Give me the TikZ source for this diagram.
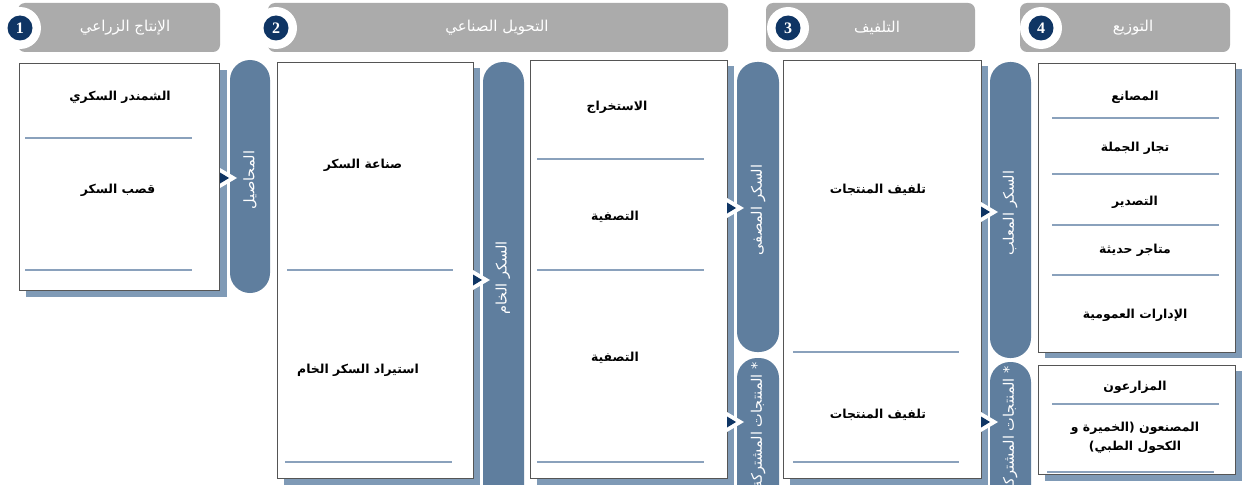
\documentclass[tikz,border=0pt]{standalone}
\usepackage{fontspec}
\setmainfont{Liberation Serif}
\newfontfamily\arfont[Script=Arabic]{DejaVu Sans}
\TeXXeTstate=1
\newcommand\rtl[1]{\beginR #1\endR}
\definecolor{hdrgray}{HTML}{ABABAB}
\definecolor{pillblue}{HTML}{5F7E9E}
\definecolor{shadowblue}{HTML}{7F9AB6}
\definecolor{sepblue}{HTML}{8AA1BC}
\definecolor{navy}{HTML}{0F3564}
\definecolor{boxline}{HTML}{555555}
\tikzset{
  hdr/.style={fill=hdrgray, rounded corners=7pt},
  hdrtext/.style={text=white, font=\arfont\fontsize{15}{17}\selectfont},
  numc/.style={circle, fill=navy, minimum size=25pt, inner sep=0pt, text=white, font=\bfseries\fontsize{16}{16}\selectfont},
  ring/.style={circle, fill=white, minimum size=42pt, inner sep=0pt},
  card/.style={draw=boxline, fill=white, line width=0.8pt, anchor=north west, inner sep=0pt},
  shade/.style={fill=shadowblue},
  sepline/.style={draw=sepblue, line width=2.2pt},
  pill/.style={fill=pillblue, rounded corners=20pt},
  pilltext/.style={text=white, rotate=90, font=\arfont\fontsize{14.5}{16}\selectfont, inner sep=0pt},
  item/.style={font=\arfont\bfseries\fontsize{12.4}{19.5}\selectfont, align=center, inner sep=0pt},
}
\newcommand\tri[2]{%
  \fill[white] (#1,#2-10) -- (#1+17,#2) -- (#1,#2+10) -- cycle;
  \fill[navy] (#1,#2-5.5) -- (#1+9,#2) -- (#1,#2+5.5) -- cycle;}
\begin{document}
\begin{tikzpicture}[x=1pt,y=-1pt]
\useasboundingbox (0,0) rectangle (1246,484);
\clip (0,0) rectangle (1246,484);
\fill[white] (0,0) rectangle (1246,484);
% headers
\fill[hdr] (18,3) rectangle (220,52);
\fill[hdr] (268,3) rectangle (728,52);
\fill[hdr] (766,3) rectangle (975,52);
\fill[hdr] (1020,3) rectangle (1230,52);
\node[ring] (r1) at (20,28) {};
\node[ring] (r2) at (276,28) {};
\node[ring] (r3) at (788,28) {};
\node[ring] (r4) at (1041,28) {};
\node[numc] (n1) at (20,28) {1};
\node[numc] (n2) at (276,28) {2};
\node[numc] (n3) at (788,28) {3};
\node[numc] (n4) at (1041,28) {4};
\node[hdrtext] (h1) at (125,28) {\rtl{الإنتاج الزراعي}};
\node[hdrtext] (h2) at (497,28) {\rtl{التحويل الصناعي}};
\node[hdrtext] (h3) at (877,28) {\rtl{التلفيف}};
\node[hdrtext] (h4) at (1133,28) {\rtl{التوزيع}};
% pills
\fill[pill] (230,60) rectangle (270,293);
\fill[pill] (483,62) rectangle (524,540);
\fill[pill] (737,62) rectangle (779,352);
\fill[pill] (737,358) rectangle (779,560);
\fill[pill] (990,62) rectangle (1031,358);
\fill[pill] (990,362) rectangle (1031,560);
\node[pilltext] (p1) at (250,180) {\rtl{المحاصيل}};
\node[pilltext] (p2) at (503,278) {\rtl{السكر الخام}};
\node[pilltext] (p3) at (758,210) {\rtl{السكر المصفى}};
\node[pilltext, anchor=east] (p4) at (758,362) {\rtl{* المنتجات المشتركة}};
\node[pilltext] (p5) at (1010,213) {\rtl{السكر المعلب}};
\node[pilltext, anchor=east] (p6) at (1010,366) {\rtl{* المنتجات المشتركة}};
% shadows
\fill[shade] (26,70) rectangle (227,297);
\fill[shade] (284,68) rectangle (480,485);
\fill[shade] (537,66) rectangle (734,485);
\fill[shade] (790,66) rectangle (988,485);
\fill[shade] (1045,69) rectangle (1242,358);
\fill[shade] (1045,371) rectangle (1242,481);
% cards
\node[card, minimum width=200pt, minimum height=227pt] (b1) at (19,63) {};
\node[card, minimum width=196pt, minimum height=416pt] (b2) at (277,62) {};
\node[card, minimum width=197pt, minimum height=418pt] (b3) at (530,60) {};
\node[card, minimum width=198pt, minimum height=418pt] (b4) at (783,60) {};
\node[card, minimum width=197pt, minimum height=289pt] (b5) at (1038,63) {};
\node[card, minimum width=197pt, minimum height=109pt] (b6) at (1038,365) {};
% separators
\draw[sepline] (25,138) -- (192,138);
\draw[sepline] (25,270) -- (192,270);
\draw[sepline] (287,270) -- (453,270);
\draw[sepline] (285,462) -- (452,462);
\draw[sepline] (537,159) -- (704,159);
\draw[sepline] (537,270) -- (704,270);
\draw[sepline] (537,462) -- (704,462);
\draw[sepline] (793,352) -- (959,352);
\draw[sepline] (793,462) -- (959,462);
\draw[sepline] (1052,118) -- (1219,118);
\draw[sepline] (1052,174) -- (1219,174);
\draw[sepline] (1052,225) -- (1219,225);
\draw[sepline] (1052,275) -- (1219,275);
\draw[sepline] (1052,404) -- (1219,404);
\draw[sepline] (1047,472) -- (1214,472);
% items
\node[item] (t11) at (120,97) {\rtl{الشمندر السكري}};
\node[item] (t12) at (118,190) {\rtl{قصب السكر}};
\node[item] (t21) at (363,165) {\rtl{صناعة السكر}};
\node[item] (t22) at (358,370) {\rtl{استيراد السكر الخام}};
\node[item] (t31) at (617,107) {\rtl{الاستخراج}};
\node[item] (t32) at (615,217) {\rtl{التصفية}};
\node[item] (t33) at (615,358) {\rtl{التصفية}};
\node[item] (t41) at (878,190) {\rtl{تلفيف المنتجات}};
\node[item] (t42) at (878,415) {\rtl{تلفيف المنتجات}};
\node[item] (t51) at (1135,97) {\rtl{المصانع}};
\node[item] (t52) at (1135,148) {\rtl{تجار الجملة}};
\node[item] (t53) at (1135,202) {\rtl{التصدير}};
\node[item] (t54) at (1135,250) {\rtl{متاجر حديثة}};
\node[item] (t55) at (1135,315) {\rtl{الإدارات العمومية}};
\node[item] (t61) at (1135,387) {\rtl{المزارعون}};
\node[item] (t62) at (1135,438) {\rtl{المصنعون (الخميرة و}\\\rtl{الكحول الطبي)}};
% arrows
\tri{220}{178}
\tri{473}{280}
\tri{727}{208}
\tri{727}{422}
\tri{981}{212}
\tri{981}{422}
\end{tikzpicture}
\end{document}
